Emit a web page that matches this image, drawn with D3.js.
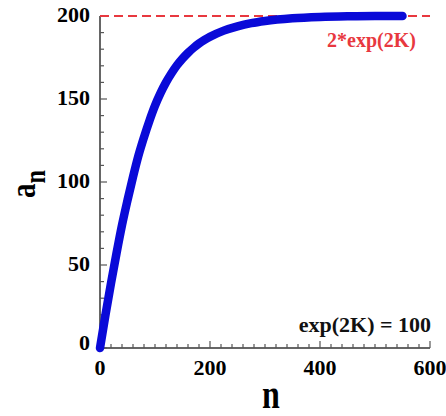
<!DOCTYPE html>
<html><head><meta charset="utf-8">
<script src="https://cdn.jsdelivr.net/npm/d3@7"></script>
<style>
body{margin:0;background:#fff;}
svg{display:block;}
svg text{font-family:"Liberation Serif","DejaVu Serif","Times New Roman",serif;font-weight:bold;}
</style>
</head><body>
<script>
const nValues = [0,10,20,30,40,50,60,70,80,90,100,110,120,130,140,150,160,170,180,190,200,225,250,275,300,350,400,450,500,550];
const aValues = [0,20,39,57,74,89,103,116,127,137,146,153.5,160,165.5,170.3,174.3,177.8,180.8,183.4,185.6,187.5,191.2,193.8,195.7,197,198.6,199.4,199.8,200,200];
const limitValue = 200;
const xTicks = [0,200,400,600];
const yTicks = [0,50,100,150,200];
const limitLabel = "2*exp(2K)";
const noteLabel = "exp(2K) = 100";

const W = 446, H = 416;
const svg = d3.select("body").append("svg").attr("width", W).attr("height", H);

const x = d3.scaleLinear().domain([0,600]).range([100,430]);
const y = d3.scaleLinear().domain([0,200]).range([348,16]);

const axisColor = "#333";
const tickColor = "#555";
const gx = svg.append("g");
gx.append("line").attr("x1", x(0)).attr("x2", x(600)).attr("y1", y(0)).attr("y2", y(0))
  .attr("stroke", axisColor).attr("stroke-width", 1.5);
d3.range(0, 601, 20).forEach(v => {
  const major = v % 200 === 0;
  gx.append("line").attr("x1", x(v)).attr("x2", x(v)).attr("y1", y(0)).attr("y2", y(0) - (major ? 7 : 4))
    .attr("stroke", tickColor).attr("stroke-width", 1.2);
});
xTicks.forEach(v => {
  gx.append("text").attr("x", x(v)).attr("y", 375).attr("text-anchor", "middle")
    .attr("font-size", 22).text(v);
});

const gy = svg.append("g");
gy.append("line").attr("x1", x(0)).attr("x2", x(0)).attr("y1", y(0)).attr("y2", y(200))
  .attr("stroke", axisColor).attr("stroke-width", 1.5);
d3.range(0, 201, 10).forEach(v => {
  const major = v % 50 === 0;
  gy.append("line").attr("x1", x(0)).attr("x2", x(0) + (major ? 7 : 4)).attr("y1", y(v)).attr("y2", y(v))
    .attr("stroke", tickColor).attr("stroke-width", 1.2);
});
yTicks.forEach(v => {
  gy.append("text").attr("x", 90).attr("y", y(v) + (v === 0 ? 2 : 6)).attr("text-anchor", "end")
    .attr("font-size", 22).text(v);
});

// dashed limit
svg.append("line").attr("x1", x(0)).attr("x2", x(600)).attr("y1", y(limitValue)).attr("y2", y(limitValue))
  .attr("stroke", "#e8383f").attr("stroke-width", 2).attr("stroke-dasharray", "9,5");

// curve
const data = nValues.map((n,i) => [n, aValues[i]]);
svg.append("path").datum(data)
  .attr("d", d3.line().x(d => x(d[0])).y(d => y(d[1])).curve(d3.curveMonotoneX))
  .attr("fill", "none").attr("stroke", "#0a0ad8").attr("stroke-width", 8.5)
  .attr("stroke-linecap", "round").attr("stroke-linejoin", "round");

// labels
svg.append("text").attr("x", 416).attr("y", 47).attr("text-anchor", "end")
  .attr("font-size", 20).attr("fill", "#e8383f").text(limitLabel);
svg.append("text").attr("x", 431).attr("y", 332).attr("text-anchor", "end")
  .attr("font-size", 22).attr("fill", "#111").text(noteLabel);

svg.append("text").attr("transform", "translate(271,408) scale(1,1.25)").attr("text-anchor", "middle")
  .attr("font-size", 32).text("n");

const yl = svg.append("text").attr("transform", "translate(35,198) rotate(-90) scale(1,1.2)").attr("text-anchor", "start")
  .attr("font-size", 29);
yl.append("tspan").text("a");
yl.append("tspan").attr("dy", 8).attr("font-size", 24).text("n");
</script>
</body></html>
